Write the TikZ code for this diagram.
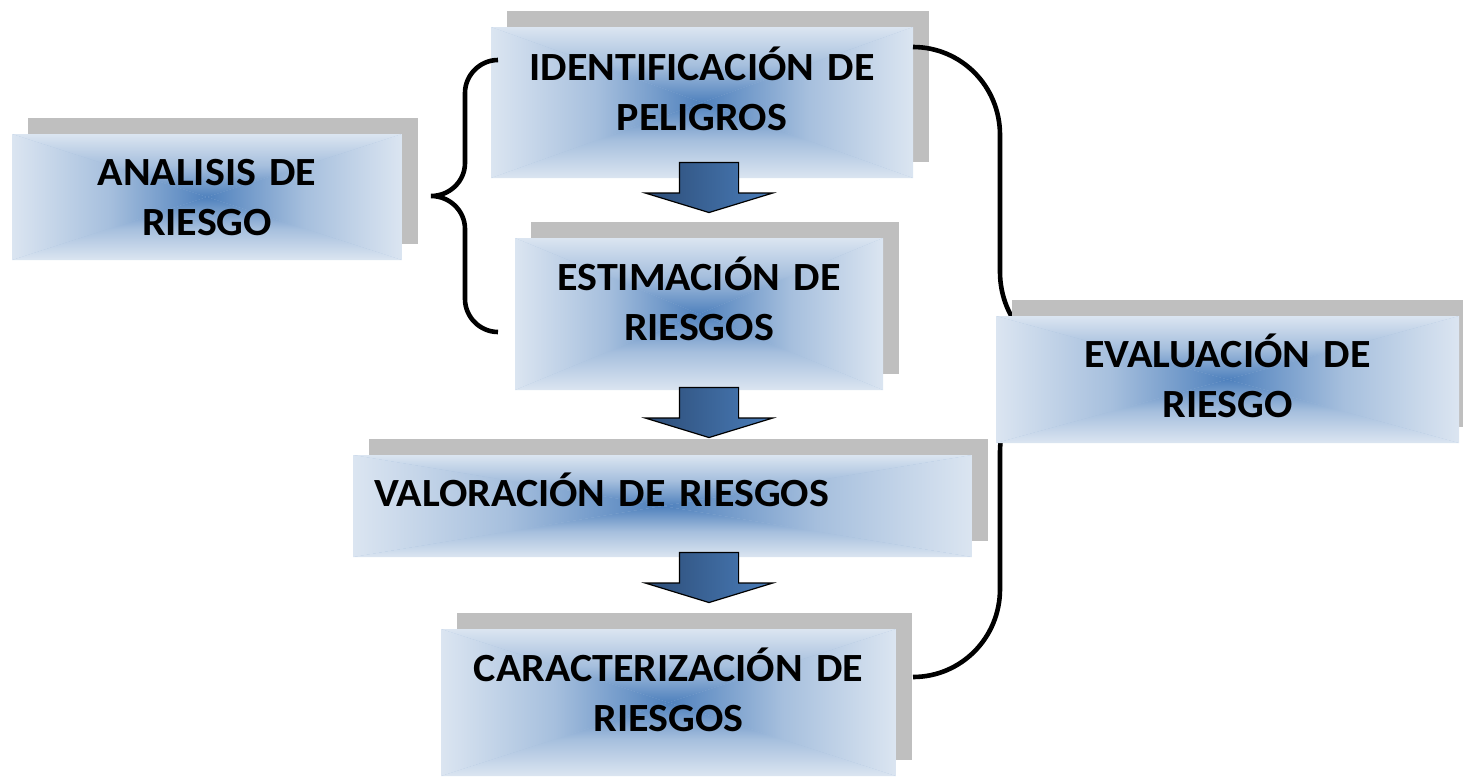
\documentclass[tikz,border=0pt]{standalone}
\usepackage{fontspec}
\setmainfont{Carlito}[FakeStretch=1.05]
\usetikzlibrary{shapes.arrows,shadows}

\definecolor{boxlight}{RGB}{219,229,241}
\definecolor{boxdark}{RGB}{79,129,189}
\colorlet{boxmid}{boxlight!62!boxdark}
\definecolor{shadowgray}{RGB}{191,191,191}
\definecolor{arrowdark}{RGB}{44,76,118}
\definecolor{arrowlight}{RGB}{74,125,186}

\tikzset{
  riskbox/.style n args={3}{
    minimum width=#1, minimum height=#2, text width=#1,
    text height=0pt, text depth=#3, inner sep=0pt, align=center,
    fill=boxmid, font=\fontsize{20}{25}\selectfont\bfseries,
    drop shadow={shadow xshift=8pt, shadow yshift=8pt, fill=shadowgray, opacity=1},
    path picture={
      \coordinate (pc) at (path picture bounding box.center);
      \shade[top color=boxlight, bottom color=boxdark, middle color=boxmid]
        (path picture bounding box.north west) -- (path picture bounding box.north east) -- (pc) -- cycle;
      \shade[top color=boxdark, bottom color=boxlight, middle color=boxmid]
        (path picture bounding box.south west) -- (path picture bounding box.south east) -- (pc) -- cycle;
      \shade[left color=boxlight, right color=boxdark, middle color=boxmid]
        (path picture bounding box.north west) -- (path picture bounding box.south west) -- (pc) -- cycle;
      \shade[left color=boxdark, right color=boxlight, middle color=boxmid]
        (path picture bounding box.north east) -- (path picture bounding box.south east) -- (pc) -- cycle;
    }
  },
  downarrow/.style={
    single arrow, rotate=-90, draw=black, line width=0.6pt,
    inner xsep=0pt, inner ysep=14.5pt,
    minimum height=25pt, minimum width=63pt,
    single arrow head extend=17pt, single arrow tip angle=146,
    left color=arrowdark, right color=arrowlight
  },
  brace/.style={line width=2.3pt}
}

\begin{document}
\begin{tikzpicture}[x=0.5pt,y=-0.5pt]
    \useasboundingbox (0,0) rectangle (1463,777);

    % boxes
    \node [riskbox={195pt}{63pt}{12pt}]     (analisis) at (207,197)    {ANALISIS DE\\RIESGO};
    \node [riskbox={211pt}{75.5pt}{22.5pt}] (ident)    at (702,102.5)  {IDENTIFICACIÓN DE\\PELIGROS};
    \node [riskbox={184pt}{76pt}{24pt}]     (estim)    at (699,314)    {ESTIMACIÓN DE\\RIESGOS};
    \node [riskbox={309.5pt}{51pt}{0pt}, text width=288.5pt, inner xsep=10.5pt, align=left]
                                            (valor)    at (662.5,506)  {VALORACIÓN DE RIESGOS};
    \node [riskbox={227.5pt}{73.5pt}{21.5pt}] (caract) at (668.5,702.5) {CARACTERIZACIÓN DE\\RIESGOS};

    % braces
    \draw [brace] (498,60) .. controls (480,60) and (465,75) .. (465,93) -- (465,163)
        .. controls (465,181) and (450,196) .. (431,196)
        .. controls (450,196) and (465,211) .. (465,229) -- (465,299)
        .. controls (465,317) and (480,332) .. (498,332);
    \draw [brace] (913,47) .. controls (961,47) and (1000,86) .. (1000,135) -- (1000,272)
        .. controls (1000,321) and (1039,362) .. (1087,362)
        .. controls (1039,362) and (1000,403) .. (1000,452) -- (1000,589)
        .. controls (1000,638) and (961,677) .. (913,677);

    \node [riskbox={231.5pt}{63.5pt}{12.5pt}] (evalua) at (1227.5,379.5) {EVALUACIÓN DE\\RIESGO};

    % arrows
    \node [downarrow] (ar1) at (709,183) {};
    \node [downarrow] (ar2) at (709,408) {};
    \node [downarrow] (ar3) at (709,573) {};
\end{tikzpicture}
\end{document}
